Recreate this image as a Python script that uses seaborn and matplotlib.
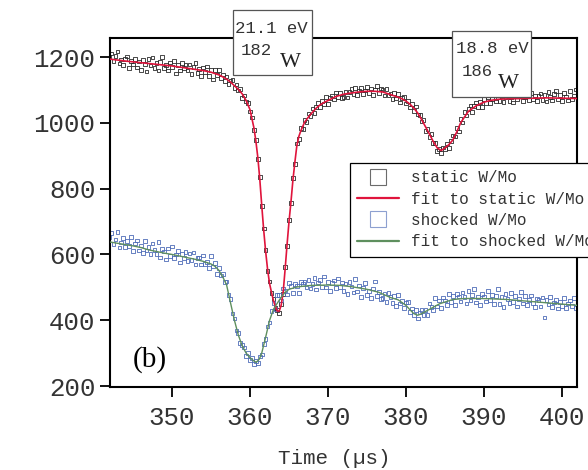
import numpy as np
import matplotlib
matplotlib.use("Agg")
import matplotlib.pyplot as plt
from matplotlib.lines import Line2D
from matplotlib.patches import Rectangle
import seaborn as sns

# time of each measured point (µs), 0.25 µs apart
t_data = np.arange(342.0, 402.001, 0.25)

# transmitted counts, static W/Mo target
static_counts = [
    1202, 1211, 1188, 1204, 1217, 1180, 1193, 1175, 1194, 1202, 1167, 1188, 1177, 1195, 1168, 1187, 1161, 1191, 1178, 1156,
    1194, 1174, 1199, 1167, 1181, 1159, 1185, 1200, 1166, 1176, 1159, 1184, 1169, 1189, 1150, 1176, 1159, 1182, 1166, 1176,
    1159, 1177, 1148, 1169, 1182, 1152, 1163, 1142, 1168, 1154, 1171, 1143, 1160, 1132, 1160, 1145, 1160, 1137, 1147, 1127,
    1141, 1118, 1129, 1130, 1107, 1117, 1098, 1102, 1076, 1083, 1065, 1061, 1035, 1016, 979, 948, 891, 835, 747, 679,
    614, 550, 518, 482, 465, 438, 431, 422, 450, 480, 561, 626, 705, 757, 832, 875, 937, 950, 985, 982,
    1008, 1002, 1028, 1020, 1044, 1029, 1048, 1061, 1048, 1067, 1058, 1078, 1058, 1076, 1083, 1071, 1092, 1079, 1091, 1075,
    1079, 1094, 1077, 1094, 1102, 1088, 1107, 1085, 1098, 1106, 1088, 1098, 1109, 1090, 1104, 1085, 1101, 1112, 1091, 1104,
    1101, 1083, 1102, 1084, 1089, 1073, 1090, 1074, 1088, 1062, 1075, 1079, 1059, 1067, 1047, 1058, 1037, 1050, 1025, 1024,
    1004, 1008, 976, 982, 958, 966, 939, 939, 915, 921, 909, 925, 921, 937, 924, 945, 962, 959, 984, 974,
    1012, 1001, 1033, 1022, 1043, 1053, 1033, 1052, 1062, 1048, 1064, 1049, 1072, 1061, 1078, 1060, 1072, 1084, 1065, 1078,
    1067, 1080, 1063, 1077, 1085, 1066, 1077, 1062, 1083, 1071, 1080, 1088, 1067, 1077, 1086, 1069, 1091, 1071, 1083, 1067,
    1081, 1089, 1070, 1085, 1065, 1093, 1079, 1068, 1088, 1096, 1071, 1084, 1066, 1090, 1080, 1068, 1097, 1072, 1083, 1101,
    1078,
]

# transmitted counts, shocked W/Mo target
shocked_counts = [
    653, 665, 631, 645, 669, 621, 636, 651, 622, 641, 625, 652, 611, 633, 642, 612, 627, 605, 640, 612,
    623, 601, 633, 613, 601, 638, 591, 616, 609, 585, 618, 595, 624, 590, 600, 610, 575, 602, 589, 607,
    580, 603, 584, 606, 569, 590, 591, 569, 597, 570, 578, 559, 596, 563, 574, 540, 558, 536, 540, 516,
    518, 476, 465, 420, 405, 369, 362, 330, 324, 317, 291, 301, 280, 286, 267, 277, 269, 290, 296, 328,
    343, 381, 393, 428, 453, 434, 477, 476, 460, 496, 490, 478, 514, 504, 483, 510, 505, 482, 517, 510,
    516, 499, 523, 496, 510, 528, 493, 515, 522, 502, 533, 499, 517, 489, 513, 521, 497, 527, 502, 515,
    489, 512, 479, 517, 503, 484, 525, 487, 506, 471, 498, 513, 477, 489, 467, 496, 518, 473, 485, 464,
    467, 481, 455, 483, 471, 453, 473, 443, 477, 451, 459, 438, 454, 456, 426, 436, 416, 431, 405, 423,
    432, 415, 432, 416, 451, 441, 431, 467, 442, 460, 438, 469, 460, 447, 480, 456, 473, 446, 480, 472,
    457, 484, 470, 451, 488, 460, 476, 494, 454, 471, 446, 480, 472, 457, 489, 462, 477, 449, 473, 494,
    450, 471, 441, 479, 465, 452, 482, 455, 473, 442, 465, 485, 451, 473, 446, 461, 475, 452, 440, 466,
    461, 442, 469, 408, 462, 448, 470, 441, 454, 462, 436, 456, 443, 468, 438, 451, 460, 443, 467, 437,
    448,
]

# fitted curves
static_fit_t = [342, 344, 346, 348, 350, 352, 354, 355, 356, 356.5, 357, 357.5, 358, 358.5, 359, 359.5,
                360, 360.5, 360.75, 361, 361.25, 361.5, 361.75, 362, 362.25, 362.5, 362.75, 363, 363.25,
                363.5, 363.75, 364, 364.25, 364.5, 364.75, 365, 365.25, 365.5, 365.75, 366, 366.25, 366.5,
                367, 367.5, 368, 368.5, 369, 369.5, 370, 371, 372, 373, 374, 375, 376, 377, 377.5, 378,
                378.5, 379, 379.5, 380, 380.5, 381, 381.5, 382, 382.5, 383, 383.5, 384, 384.5, 385, 385.5,
                386, 386.5, 387, 387.5, 388, 389, 390, 391, 392, 393, 395, 398, 402]
static_fit_v = [1194, 1188, 1183, 1178, 1173, 1166, 1159, 1154, 1146, 1140, 1133, 1124, 1113, 1102, 1088, 1068,
                1040, 985, 945, 895, 830, 750, 675, 610, 555, 512, 485, 460, 442,
                428, 428, 446, 485, 555, 630, 700, 760, 826, 880, 930, 958, 975,
                1002, 1018, 1032, 1045, 1055, 1062, 1068, 1080, 1087, 1091, 1094, 1096, 1096, 1094, 1090, 1086,
                1082, 1078, 1073, 1066, 1057, 1045, 1030, 1010, 988, 966, 943, 924, 916, 924, 934,
                948, 972, 1000, 1018, 1035, 1052, 1063, 1069, 1072, 1073, 1074, 1076, 1074]

shocked_fit_t = [342, 343, 344, 345, 346, 347, 348, 349, 350, 351, 352, 353, 354, 355, 355.5, 356, 356.5,
                 357, 357.5, 358, 358.5, 359, 359.5, 360, 360.5, 360.8, 361.2, 361.5, 362, 362.5, 363,
                 363.5, 364, 364.5, 365, 366, 367, 368, 370, 371.5, 373, 374, 375, 376.5, 378, 379, 380,
                 380.5, 381, 381.5, 382, 383, 384.3, 386, 387.5, 389.5, 391, 393, 395, 397, 399, 402]
shocked_fit_v = [638, 634, 630, 626, 621, 614, 609, 604, 600, 595, 590, 585, 579, 571, 564, 552, 532,
                 507, 453, 400, 355, 322, 300, 286, 276, 272, 282, 300, 348, 399, 433,
                 452, 470, 485, 494, 501, 504, 506, 507, 506, 502, 498, 494, 485, 469, 462, 445,
                 432, 420, 415, 420, 433, 450, 463, 466, 466, 465, 463, 459, 455, 451, 445]

xticks = [350, 360, 370, 380, 390, 400]
yticks = [200, 400, 600, 800, 1000, 1200]
legend_labels = ["static W/Mo", "fit to static W/Mo", "shocked W/Mo", "fit to shocked W/Mo"]
resonances = [("21.1 eV", "182", "W"), ("18.8 eV", "186", "W")]

assert len(static_counts) == len(t_data) == len(shocked_counts)
assert len(static_fit_t) == len(static_fit_v)
assert len(shocked_fit_t) == len(shocked_fit_v)

sns.set_style("ticks")
plt.rcParams["font.family"] = ["Liberation Mono", "DejaVu Sans Mono"]

W, H = 588, 470
fig = plt.figure(figsize=(W / 100, H / 100), dpi=100)
ax = fig.add_axes([110 / W, 1 - 387 / H, 467 / W, 349 / H])

red = "#e0143c"
green = "#5e8f5e"
dark = "#2b2b2b"
blue = "#4f6cb8"

#static data + fit
sns.scatterplot(x=t_data, y=static_counts, ax=ax, marker="s", s=7, color=dark,
                facecolors="none", edgecolor=dark, linewidth=0.6, legend=False, zorder=2)
ax.collections[-1].set_facecolor("none")
sns.lineplot(x=static_fit_t, y=static_fit_v, ax=ax, color=red, linewidth=1.2,
             sort=False, estimator=None, legend=False, zorder=3)

#shocked data + fit
sns.scatterplot(x=t_data, y=shocked_counts, ax=ax, marker="s", s=7, color=blue,
                facecolors="none", edgecolor=blue, linewidth=0.6, legend=False, zorder=2)
ax.collections[-1].set_facecolor("none")
sns.lineplot(x=shocked_fit_t, y=shocked_fit_v, ax=ax, color=green, linewidth=1.0,
             sort=False, estimator=None, legend=False, zorder=3)

ax.set_xlim(342.05, 401.92)
ax.set_ylim(197, 1258)
ax.set_xticks(xticks)
ax.set_yticks(yticks)
for s in ax.spines.values():
    s.set_visible(True)
    s.set_color("black")
    s.set_linewidth(1.5)
ax.tick_params(axis="both", direction="out", length=7, width=1.3, color="black",
               labelsize=18.5, labelcolor="#333333")
ax.tick_params(axis="y", pad=3.5)
ax.tick_params(axis="x", pad=6.5)

ax.set_xlabel("Time (µs)", fontsize=15, color="#333333")
ax.set_ylabel("")
ax.xaxis.set_label_coords((334 - 110) / 467, (387 - 449) / 349)

# legend (runs off the right edge like the original)
handles = [
    Line2D([0], [0], marker="s", ls="none", ms=11, mfc="none", mec="#6b6b6b", mew=0.8),
    Line2D([0], [0], color=red, lw=1.6),
    Line2D([0], [0], marker="s", ls="none", ms=11, mfc="none", mec="#8da0d0", mew=0.8),
    Line2D([0], [0], color=green, lw=1.6),
]
leg = ax.legend(handles, legend_labels, loc="upper left",
                bbox_to_anchor=(350 / W, 1 - 163 / H), bbox_transform=fig.transFigure,
                borderaxespad=0, fontsize=11.5, fancybox=False, framealpha=1,
                handlelength=2.6, handletextpad=0.8, borderpad=0.45, labelspacing=0.4)
leg.get_frame().set_edgecolor("black")
leg.get_frame().set_linewidth(0.9)
for txt in leg.get_texts():
    txt.set_color("#333333")

# resonance boxes above the dips
boxes = [(233, 10, 312, 75), (452, 31, 531, 97)]
text_pos = [((235, 33), (241, 55), (280, 67)), ((456, 53), (462, 76), (498, 88))]
for (energy, mass, elem), (x0, y0, x1, y1), (p1, p2, p3) in zip(resonances, boxes, text_pos):
    fig.add_artist(Rectangle((x0 / W, 1 - y1 / H), (x1 - x0) / W, (y1 - y0) / H,
                             transform=fig.transFigure, facecolor="white",
                             edgecolor="#555555", linewidth=0.9, zorder=5))
    fig.text(p1[0] / W, 1 - p1[1] / H, energy, fontsize=12.5, color="#333333",
             va="baseline", ha="left", zorder=6)
    fig.text(p2[0] / W, 1 - p2[1] / H, mass, fontsize=12.5, color="#333333",
             va="baseline", ha="left", zorder=6)
    fig.text(p3[0] / W, 1 - p3[1] / H, elem, fontsize=16, color="#222222",
             family="Liberation Serif", va="baseline", ha="left", zorder=6)

ax.text((133 - 110) / 467, (387 - 367) / 349, "(b)", transform=ax.transAxes,
        fontsize=21, family="Liberation Serif", color="black", va="baseline", ha="left")

fig.savefig("out.png", dpi=100)
